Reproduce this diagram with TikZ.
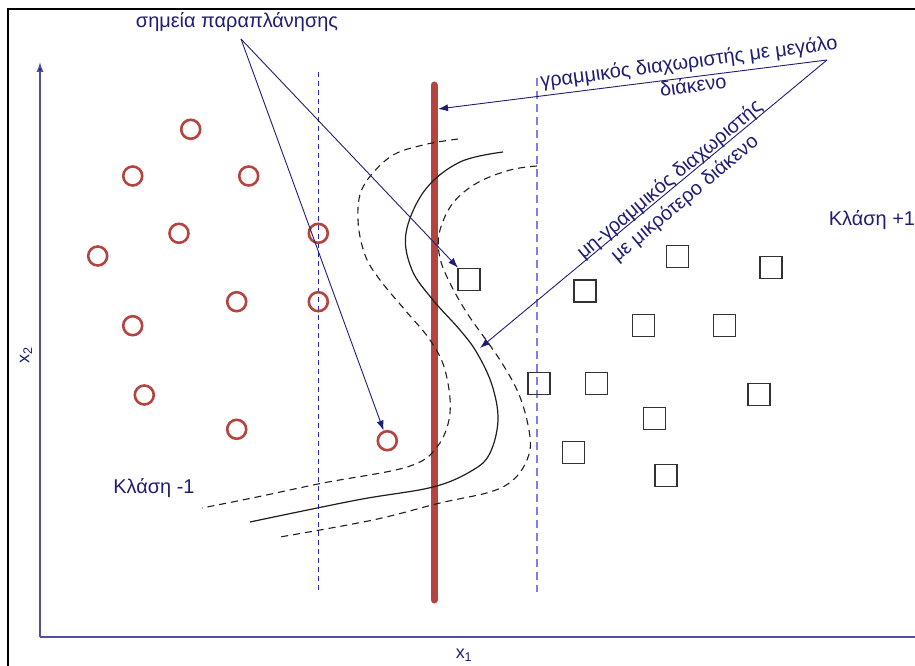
\documentclass[tikz,border=0pt]{standalone}
\usepackage{fontspec}
\setmainfont{Liberation Sans}
\usetikzlibrary{arrows.meta}
\definecolor{navy}{RGB}{30,30,115}
\definecolor{axisblue}{RGB}{80,80,160}
\definecolor{dblue}{RGB}{40,40,190}
\definecolor{lblue}{RGB}{125,125,240}
\definecolor{svmred}{RGB}{180,68,64}
\definecolor{sqgray}{RGB}{50,50,50}
\definecolor{curvec}{RGB}{30,30,30}
\begin{document}
\begin{tikzpicture}[x=1bp,y=-1bp,
  pt/.style={circle,draw=svmred,line width=2.6bp,minimum size=19bp,inner sep=0pt},
  sq/.style={rectangle,draw=sqgray,line width=1.2bp,minimum size=22bp,inner sep=0pt},
  lbl/.style={text=navy,font=\fontsize{20}{24}\selectfont,inner sep=0pt},
  note/.style={draw=navy,line width=0.9bp,-{Latex[length=10bp,width=7bp]}},
  margin/.style={dashed,line width=1.1bp},
  bound/.style={draw=curvec,line width=1.2bp}]
\useasboundingbox (0,0) rectangle (915,666);
\fill[white] (0,0) rectangle (915,666);
% frame
\draw[line width=2bp,black] (8,680) -- (8,9) -- (930,9);
% axes
\coordinate (o) at (40,637);
\coordinate (ytop) at (40,62);
\coordinate (xend) at (930,637);
\draw[axisblue,line width=1.3bp] (o) -- (xend);
\draw[axisblue,line width=1.3bp,-{Latex[length=10bp,width=7bp,fill=navy]}] (o) -- (ytop);
\node[text=navy,font=\fontsize{18}{20}\selectfont] (x1) at (464,655) {x\textsubscript{1}};
\node[text=navy,font=\fontsize{18}{20}\selectfont,rotate=90] (x2) at (26,355) {x\textsubscript{2}};
% margins
\draw[dblue,line width=1bp,dash pattern=on 5bp off 4bp] (318,72) -- (318,592);
\draw[lblue,line width=1.5bp,dash pattern=on 8bp off 5bp] (537,78) -- (537,592);
% red linear separator
\draw[svmred,line width=7bp,line cap=round] (434,85) -- (434,600);
% nonlinear boundary
\draw[bound] plot[smooth,tension=0.6] coordinates {(503,152) (460,162) (425,190) (406,233) (412,270) (433,300) (460,330) (477,353) (492,385) (498,420) (490,453) (473,470) (433,487) (357,500) (250,522)};
\draw[bound,margin,dash pattern=on 7bp off 5bp] plot[smooth,tension=0.6] coordinates {(458,139) (423,145) (390,157) (363,187) (358,220) (365,255) (380,280) (405,310) (430,340) (445,370) (450,413) (437,447) (407,467) (323,483) (257,497) (202,508)};
\draw[bound,margin,dash pattern=on 7bp off 5bp] plot[smooth,tension=0.6] coordinates {(537,166) (510,170) (477,183) (453,203) (440,230) (439,253) (447,277) (467,313) (500,360) (520,397) (530,437) (527,460) (513,480) (490,492) (440,503) (373,520) (280,537)};
% class -1
\node[pt] (c1) at (190.7,129.3) {};
\node[pt] (c2) at (132.7,176) {};
\node[pt] (c3) at (248.7,176) {};
\node[pt] (c4) at (179,233.3) {};
\node[pt] (c5) at (318.3,233.3) {};
\node[pt] (c6) at (97.7,256) {};
\node[pt] (c7) at (236.7,301.7) {};
\node[pt] (c8) at (318.3,301.7) {};
\node[pt] (c9) at (132.7,325.7) {};
\node[pt] (c10) at (144.3,395) {};
\node[pt] (c11) at (236.7,429.3) {};
\node[pt] (c12) at (387.3,440.7) {};
% class +1
\node[sq] (s0) at (469,279.3) {};
\node[sq] (s1) at (677.7,256.7) {};
\node[sq] (s2) at (771,267.7) {};
\node[sq] (s3) at (585,291) {};
\node[sq] (s4) at (643.3,325.7) {};
\node[sq] (s5) at (724.3,325.7) {};
\node[sq] (s6) at (539,383.3) {};
\node[sq] (s7) at (596.7,383.3) {};
\node[sq] (s8) at (759,394.7) {};
\node[sq] (s9) at (654.7,418.3) {};
\node[sq] (s10) at (573.3,452.7) {};
\node[sq] (s11) at (666,475.7) {};
% class labels
\node[lbl] (km) at (154,488) {Κλάση -1};
\node[lbl] (kp) at (872,220) {Κλάση +1};
% outliers annotation
\node[lbl] (outl) at (237,22) {σημεία παραπλάνησης};
\coordinate (oa) at (241,39);
\draw[note] (oa) -- (c12);
\draw[note] (oa) -- (s0);
% separators annotation
\coordinate (apex) at (827,60);
\coordinate (redhit) at (438,109);
\coordinate (curvehit) at (480,348);
\draw[note] (apex) -- (redhit);
\draw[note] (apex) -- (curvehit);
\node[lbl,rotate=7.5] (lin1) at (689,63) {γραμμικός διαχωριστής με μεγάλο};
\node[lbl,rotate=7.5] (lin2) at (693,85) {διάκενο};
\node[lbl,rotate=40] (nlin1) at (670,180) {μη-γραμμικός διαχωριστής};
\node[lbl,rotate=40] (nlin2) at (685,199) {με μικρότερο διάκενο};
\end{tikzpicture}
\end{document}
